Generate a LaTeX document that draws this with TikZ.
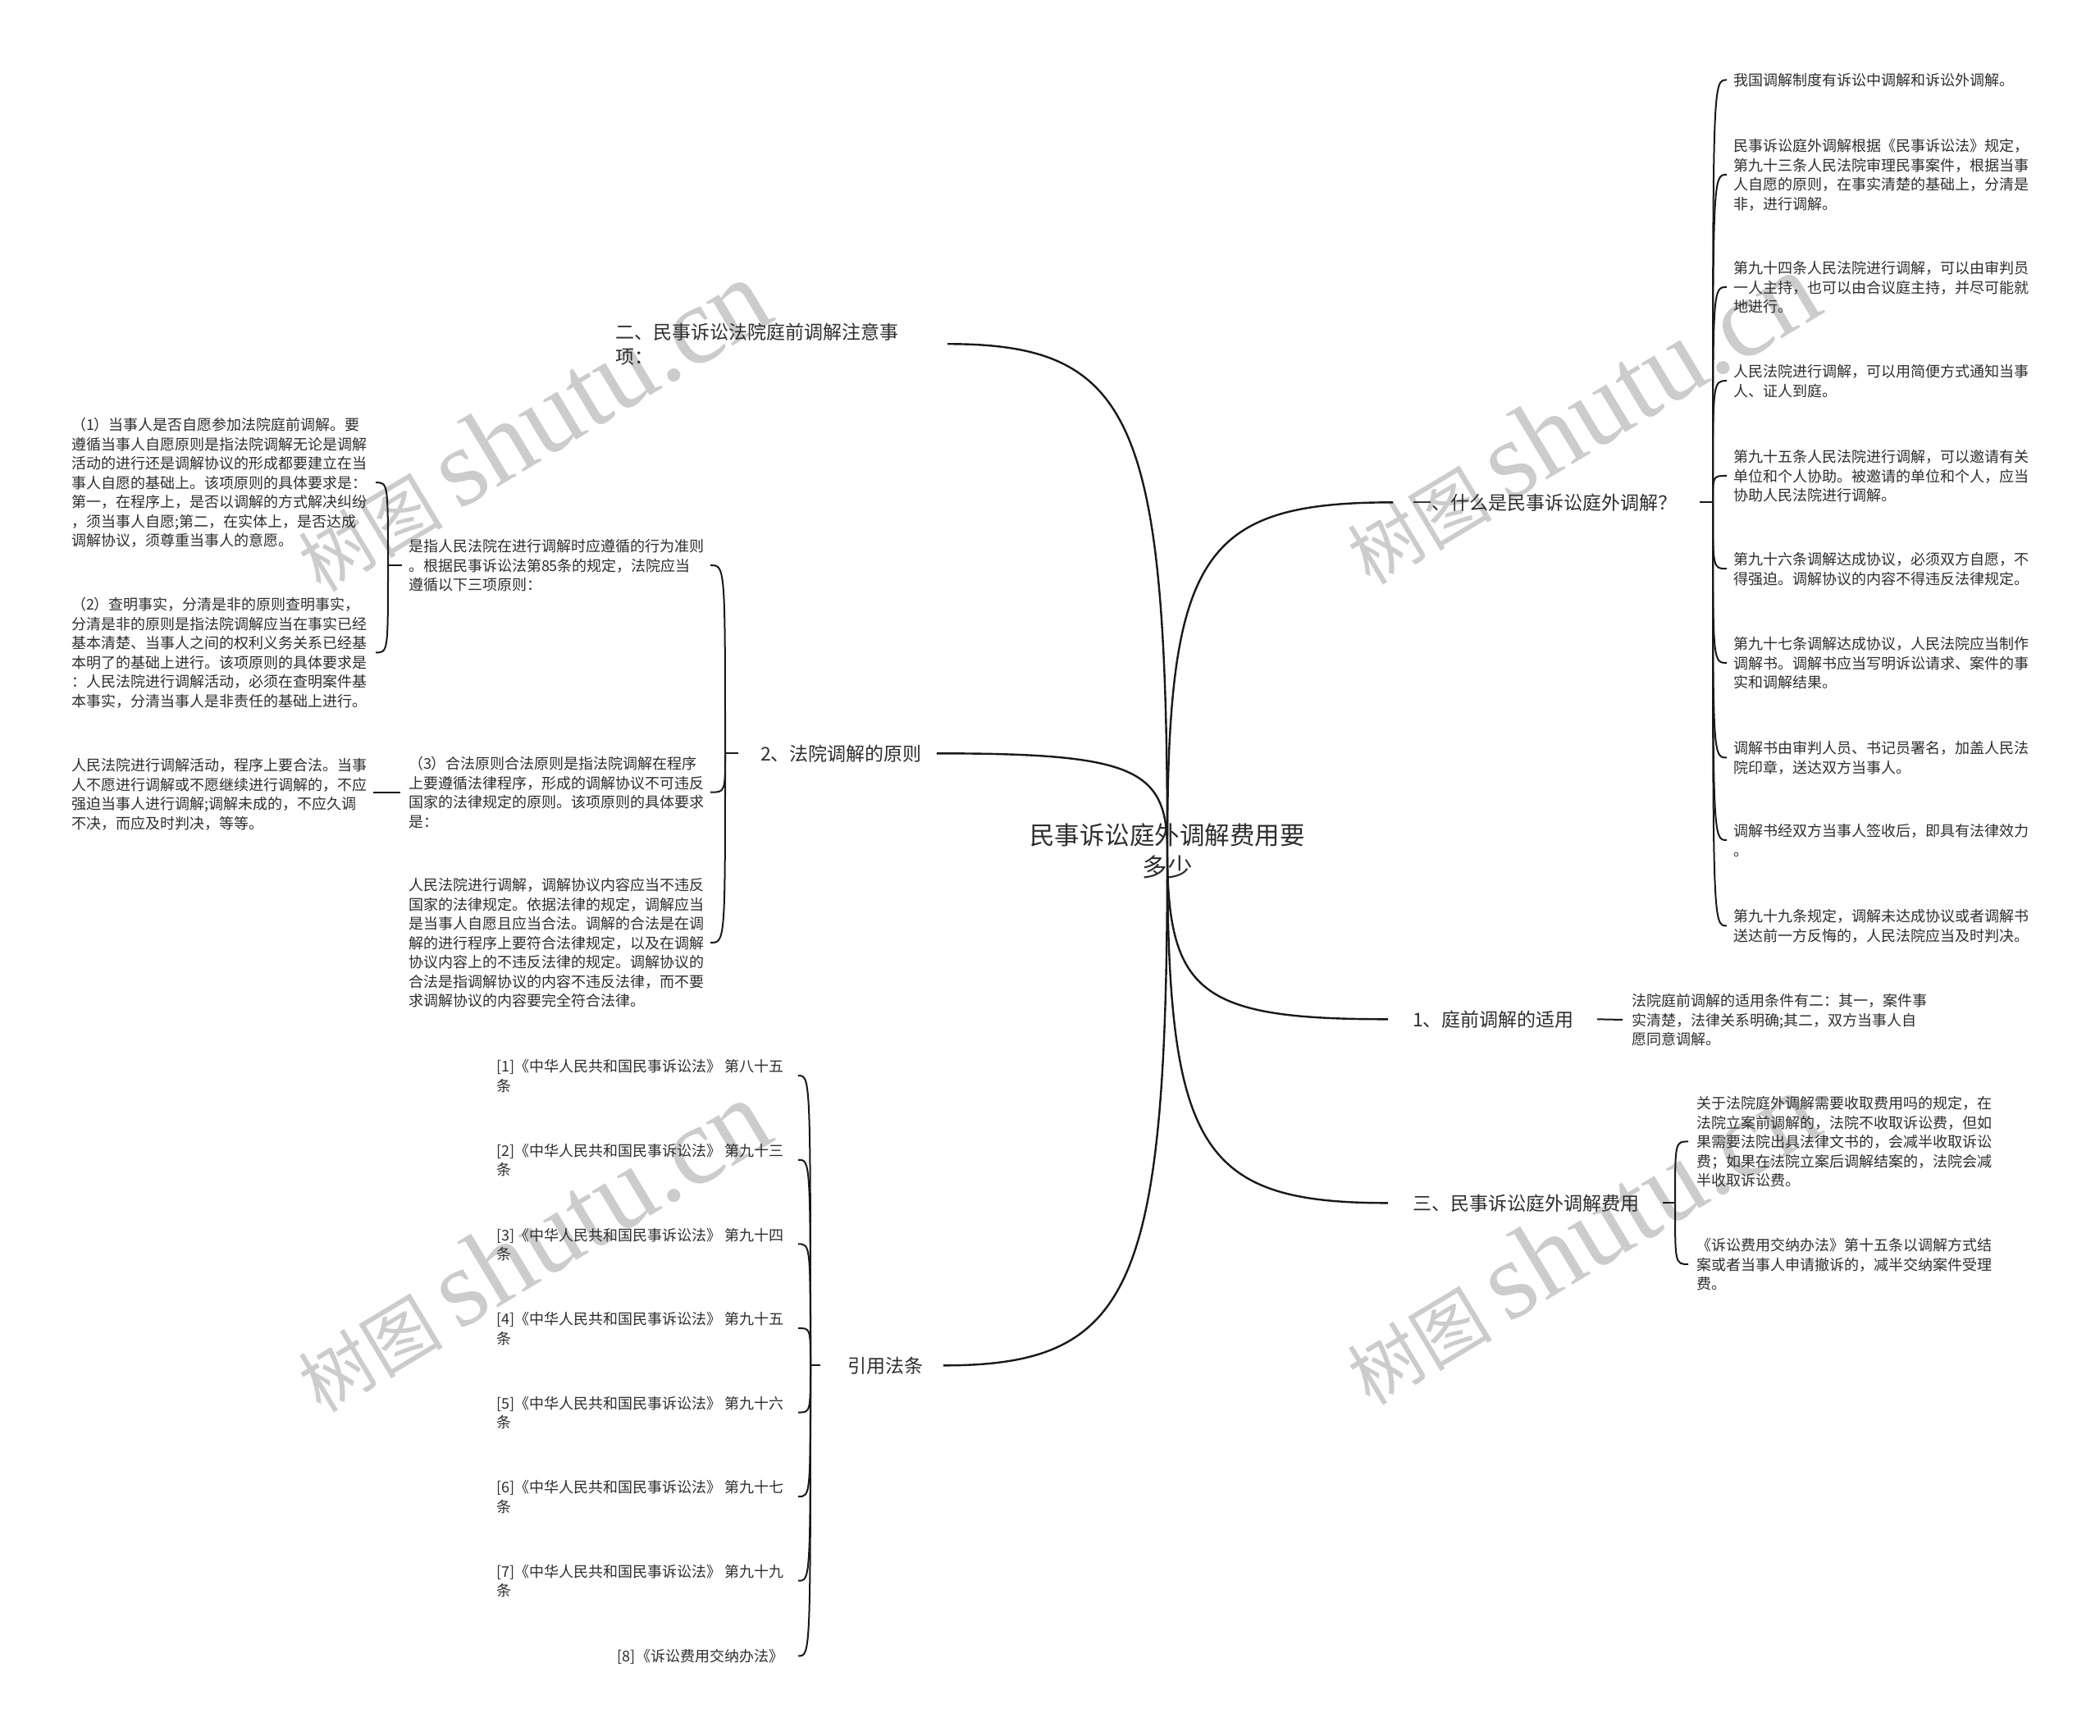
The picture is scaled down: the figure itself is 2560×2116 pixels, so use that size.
\documentclass[tikz,border=0pt]{standalone}
\usepackage{fontspec}
\setmainfont{Noto Sans CJK SC}
\newfontfamily\wmlatin{Liberation Serif}
\usetikzlibrary{calc}
\newcommand\leaffont{\fontsize{18}{23.5}\selectfont}
\newcommand\branchfont{\fontsize{23}{30}\selectfont}
\newcommand\rootfont{\fontsize{30.5}{39}\selectfont}
\newcommand\fls{\rule{0pt}{0.9em}}
\newcommand\rlink[2]{\draw[link] (#1) .. controls ($(#1|-#2)!0.15!(#1)$) and ($(#1|-#2)!0.15!(#2)$) .. (#2);}
\newcommand\blink[2]{\draw[brk] (#1) .. controls (#1|-#2) .. (#2);}
\begin{document}
\begin{tikzpicture}[x=1pt,y=-1pt,
  txt/.style={inner sep=0pt, outer sep=0pt, anchor=north west, align=left, text=black!82},
  leaf/.style={txt, font=\leaffont},
  branch/.style={txt, font=\branchfont},
  link/.style={draw=black!90, line width=2.4pt},
  brk/.style={draw=black!90, line width=2pt},
  wm/.style={text=black!20, rotate=31, inner sep=0pt}]
\fill[white] (0,0) rectangle (2560,2116);
\useasboundingbox (0,0) rectangle (2560,2116);

% watermarks
\node[wm] (w1) at (648,519) {\fontsize{88}{88}\selectfont 树图 \wmlatin\fontsize{135}{135}\selectfont shutu.cn};
\node[wm] (w2) at (1927,510) {\fontsize{88}{88}\selectfont 树图 \wmlatin\fontsize{135}{135}\selectfont shutu.cn};
\node[wm] (w3) at (648,1519) {\fontsize{88}{88}\selectfont 树图 \wmlatin\fontsize{135}{135}\selectfont shutu.cn};
\node[wm] (w4) at (1927,1510) {\fontsize{88}{88}\selectfont 树图 \wmlatin\fontsize{135}{135}\selectfont shutu.cn};

% root
\node[txt, font=\rootfont, align=center, anchor=north] (root) at (1423,1002) {\fls 民事诉讼庭外调解费用要\\多少};

% main branches
\node[branch] (b1) at (1722,601) {\fls 一、什么是民事诉讼庭外调解？};
\node[branch] (b2) at (1722,1231) {\fls 1、庭前调解的适用};
\node[branch] (b3) at (1722,1455) {\fls 三、民事诉讼庭外调解费用};
\node[branch] (b4) at (750,393) {\fls 二、民事诉讼法院庭前调解注意事\\项：};
\node[branch] (b5) at (927,907) {\fls 2、法院调解的原则};
\node[branch] (b6) at (1033,1653) {\fls 引用法条};

\coordinate (e1) at ([xshift=-24pt]b1.west);
\coordinate (e2) at ([xshift=-30pt]b2.west);
\coordinate (e3) at ([xshift=-30pt]b3.west);
\coordinate (e4) at ([xshift=60pt]b4.east);
\coordinate (e5) at ([xshift=18pt]b5.east);
\coordinate (e6) at ([xshift=25pt]b6.east);
\rlink{root.center}{e1}
\rlink{root.center}{e2}
\rlink{root.center}{e3}
\rlink{root.center}{e4}
\rlink{root.center}{e5}
\rlink{root.center}{e6}

% children of b1
\node[leaf] (r1) at (2113,88.6) {\fls 我国调解制度有诉讼中调解和诉讼外调解。};
\node[leaf] (r2) at (2113,168.6) {\fls 民事诉讼庭外调解根据《民事诉讼法》规定，\\第九十三条人民法院审理民事案件，根据当事\\人自愿的原则，在事实清楚的基础上，分清是\\非，进行调解。};
\node[leaf] (r3) at (2113,317.6) {\fls 第九十四条人民法院进行调解，可以由审判员\\一人主持，也可以由合议庭主持，并尽可能就\\地进行。};
\node[leaf] (r4) at (2113,443.6) {\fls 人民法院进行调解，可以用简便方式通知当事\\人、证人到庭。};
\node[leaf] (r5) at (2113,547.6) {\fls 第九十五条人民法院进行调解，可以邀请有关\\单位和个人协助。被邀请的单位和个人，应当\\协助人民法院进行调解。};
\node[leaf] (r6) at (2113,672.6) {\fls 第九十六条调解达成协议，必须双方自愿，不\\得强迫。调解协议的内容不得违反法律规定。};
\node[leaf] (r7) at (2113,775.6) {\fls 第九十七条调解达成协议，人民法院应当制作\\调解书。调解书应当写明诉讼请求、案件的事\\实和调解结果。};
\node[leaf] (r8) at (2113,902.6) {\fls 调解书由审判人员、书记员署名，加盖人民法\\院印章，送达双方当事人。};
\node[leaf] (r9) at (2113,1003.6) {\fls 调解书经双方当事人签收后，即具有法律效力\\。};
\node[leaf] (r10) at (2113,1107.6) {\fls 第九十九条规定，调解未达成协议或者调解书\\送达前一方反悔的，人民法院应当及时判决。};
\coordinate (k1a) at ([xshift=28pt]b1.east);
\coordinate (k1) at ([xshift=44pt]b1.east);
\draw[brk] (k1a) -- (k1);
\foreach \i in {1,...,10}{
  \coordinate (r\i w) at ([xshift=-8pt]r\i.west);
  \blink{k1}{r\i w}
}

% child of b2
\node[leaf] (s1) at (1989,1210.6) {\fls 法院庭前调解的适用条件有二：其一，案件事\\实清楚，法律关系明确;其二，双方当事人自\\愿同意调解。};
\draw[brk] ([xshift=28pt]b2.east) -- ([xshift=-11pt]s1.west);

% children of b3
\node[leaf] (t1) at (2068,1335.6) {\fls 关于法院庭外调解需要收取费用吗的规定，在\\法院立案前调解的，法院不收取诉讼费，但如\\果需要法院出具法律文书的，会减半收取诉讼\\费；如果在法院立案后调解结案的，法院会减\\半收取诉讼费。};
\node[leaf] (t2) at (2068,1508.6) {\fls 《诉讼费用交纳办法》第十五条以调解方式结\\案或者当事人申请撤诉的，减半交纳案件受理\\费。};
\coordinate (k3a) at ([xshift=29pt]b3.east);
\coordinate (k3) at ([xshift=44pt]b3.east);
\draw[brk] (k3a) -- (k3);
\coordinate (t1w) at ([xshift=-10pt]t1.west);
\coordinate (t2w) at ([xshift=-10pt]t2.west);
\blink{k3}{t1w}
\blink{k3}{t2w}

% children of b5
\node[leaf] (la) at (498,656.6) {\fls 是指人民法院在进行调解时应遵循的行为准则\\。根据民事诉讼法第85条的规定，法院应当\\遵循以下三项原则：};
\node[leaf] (lb) at (498,921.6) {\fls （3）合法原则合法原则是指法院调解在程序\\上要遵循法律程序，形成的调解协议不可违反\\国家的法律规定的原则。该项原则的具体要求\\是：};
\node[leaf] (lc) at (498,1069.6) {\fls 人民法院进行调解，调解协议内容应当不违反\\国家的法律规定。依据法律的规定，调解应当\\是当事人自愿且应当合法。调解的合法是在调\\解的进行程序上要符合法律规定，以及在调解\\协议内容上的不违反法律的规定。调解协议的\\合法是指调解协议的内容不违反法律，而不要\\求调解协议的内容要完全符合法律。};
\coordinate (k5a) at ([xshift=-27pt]b5.west);
\coordinate (k5) at ([xshift=-43pt]b5.west);
\draw[brk] (k5a) -- (k5);
\foreach \n in {la,lb,lc}{
  \coordinate (\n e) at ([xshift=8pt]\n.east);
  \blink{k5}{\n e}
}

% children of la
\node[leaf] (p1) at (87,508.6) {\fls （1）当事人是否自愿参加法院庭前调解。要\\遵循当事人自愿原则是指法院调解无论是调解\\活动的进行还是调解协议的形成都要建立在当\\事人自愿的基础上。该项原则的具体要求是：\\第一，在程序上，是否以调解的方式解决纠纷\\，须当事人自愿;第二，在实体上，是否达成\\调解协议，须尊重当事人的意愿。};
\node[leaf] (p2) at (87,727.6) {\fls （2）查明事实，分清是非的原则查明事实，\\分清是非的原则是指法院调解应当在事实已经\\基本清楚、当事人之间的权利义务关系已经基\\本明了的基础上进行。该项原则的具体要求是\\：人民法院进行调解活动，必须在查明案件基\\本事实，分清当事人是非责任的基础上进行。};
\coordinate (kaa) at ([xshift=-8pt]la.west);
\coordinate (ka) at ([xshift=-25pt]la.west);
\draw[brk] (kaa) -- (ka);
\coordinate (p1e) at ([xshift=11pt]p1.east);
\coordinate (p2e) at ([xshift=11pt]p2.east);
\blink{ka}{p1e}
\blink{ka}{p2e}

% child of lb
\node[leaf] (q1) at (87,923.6) {\fls 人民法院进行调解活动，程序上要合法。当事\\人不愿进行调解或不愿继续进行调解的，不应\\强迫当事人进行调解;调解未成的，不应久调\\不决，而应及时判决，等等。};
\coordinate (lbw) at ([xshift=-10pt]lb.west);
\coordinate (q1e) at ([xshift=8pt]q1.east);
\draw[brk] (lbw) -- (lbw -| q1e);

% children of b6
\node[leaf] (n1) at (605,1290.6) {\fls [1]《中华人民共和国民事诉讼法》 第八十五\\条};
\node[leaf] (n2) at (605,1393.2) {\fls [2]《中华人民共和国民事诉讼法》 第九十三\\条};
\node[leaf] (n3) at (605,1495.8) {\fls [3]《中华人民共和国民事诉讼法》 第九十四\\条};
\node[leaf] (n4) at (605,1598.4) {\fls [4]《中华人民共和国民事诉讼法》 第九十五\\条};
\node[leaf] (n5) at (605,1701.0) {\fls [5]《中华人民共和国民事诉讼法》 第九十六\\条};
\node[leaf] (n6) at (605,1803.6) {\fls [6]《中华人民共和国民事诉讼法》 第九十七\\条};
\node[leaf] (n7) at (605,1906.2) {\fls [7]《中华人民共和国民事诉讼法》 第九十九\\条};
\node[leaf, anchor=north east] (n8) at (955,2008.8) {\fls [8]《诉讼费用交纳办法》};
\coordinate (k6a) at ([xshift=-33pt]b6.west);
\coordinate (k6) at ([xshift=-45pt]b6.west);
\draw[brk] (k6a) -- (k6);
\foreach \i in {1,...,8}{
  \coordinate (n\i e) at ([xshift=18pt]n\i.east);
  \blink{k6}{n\i e}
}
\end{tikzpicture}
\end{document}
